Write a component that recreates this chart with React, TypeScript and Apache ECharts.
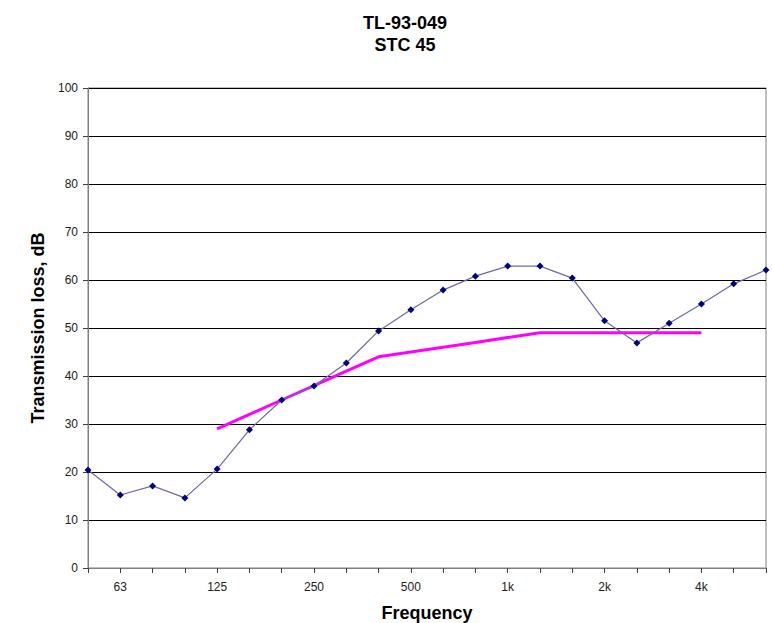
import React, { useEffect, useRef } from "react";
import * as echarts from "echarts";

const categories = ["50", "63", "80", "100", "125", "160", "200", "250", "315", "400", "500", "630", "800", "1k", "1.25k", "1.6k", "2k", "2.5k", "3.15k", "4k", "5k", "6.3k"];
const tlValues = [20.4, 15.2, 17.1, 14.6, 20.6, 28.8, 35.0, 37.9, 42.7, 49.4, 53.8, 57.9, 60.8, 62.9, 62.9, 60.4, 51.5, 46.9, 51.0, 55.0, 59.2, 62.1];
const stcContour = [null, null, null, null, 29, 32, 35, 38, 41, 44, 45, 46, 47, 48, 49, 49, 49, 49, 49, 49, null, null];
const yTicks = { min: 0, max: 100, interval: 10 };

export default function App() {
  const ref = useRef<HTMLDivElement>(null);
  useEffect(() => {
    if (!ref.current) return;
    const chart = echarts.init(ref.current, null, { renderer: "svg" });
    const font = "Liberation Sans, Arial, sans-serif";
    chart.setOption({
      animation: false,
      backgroundColor: "#ffffff",
      title: {
        text: "TL-93-049\nSTC 45",
        left: 400,
        top: 7,
        textAlign: "center",
        textStyle: { fontFamily: font, fontSize: 18, fontWeight: "bold", color: "#000", lineHeight: 22 },
      },
      grid: { left: 88, right: 6, top: 88, bottom: 55, show: true, borderColor: "#808080", borderWidth: 1 },
      xAxis: {
        type: "category",
        data: categories,
        boundaryGap: false,
        axisLine: { lineStyle: { color: "#808080", width: 1 } },
        axisTick: { show: true, interval: 0, length: 5, lineStyle: { color: "#404040" } },
        axisLabel: {
          interval: (i: number) => i % 3 === 1,
          margin: 13,
          fontFamily: font,
          fontSize: 12,
          color: "#222",
        },
        splitLine: { show: false },
      },
      yAxis: {
        type: "value",
        min: yTicks.min,
        max: yTicks.max,
        interval: yTicks.interval,
        axisLine: { show: true, lineStyle: { color: "#808080", width: 1 } },
        axisTick: { show: true, length: 5, lineStyle: { color: "#404040" } },
        axisLabel: { margin: 10, fontFamily: font, fontSize: 12, color: "#222" },
        splitLine: { show: true, lineStyle: { color: "#000", width: 1 } },
      },
      graphic: [
        {
          type: "text",
          x: 38,
          y: 328,
          rotation: Math.PI / 2,
          style: {
            text: "Transmission loss, dB",
            fontFamily: font,
            fontSize: 18,
            fontWeight: "bold",
            fill: "#000",
            align: "center",
            verticalAlign: "middle",
          },
        },
        {
          type: "text",
          x: 427,
          y: 613,
          style: {
            text: "Frequency",
            fontFamily: font,
            fontSize: 18,
            fontWeight: "bold",
            fill: "#000",
            align: "center",
            verticalAlign: "middle",
          },
        },
      ],
      series: [
        {
          name: "STC contour",
          type: "line",
          data: stcContour,
          showSymbol: false,
          symbol: "none",
          lineStyle: { color: "#ff00ff", width: 3 },
          z: 2,
        },
        {
          name: "TL",
          type: "line",
          data: tlValues,
          symbol: "diamond",
          symbolSize: 7,
          itemStyle: { color: "#000080" },
          lineStyle: { color: "#6a6aa8", width: 1.2 },
          z: 3,
        },
      ],
    });
    return () => chart.dispose();
  }, []);
  return <div ref={ref} style={{ position: "fixed", left: 0, top: 0, width: 772, height: 623 }} />;
}
